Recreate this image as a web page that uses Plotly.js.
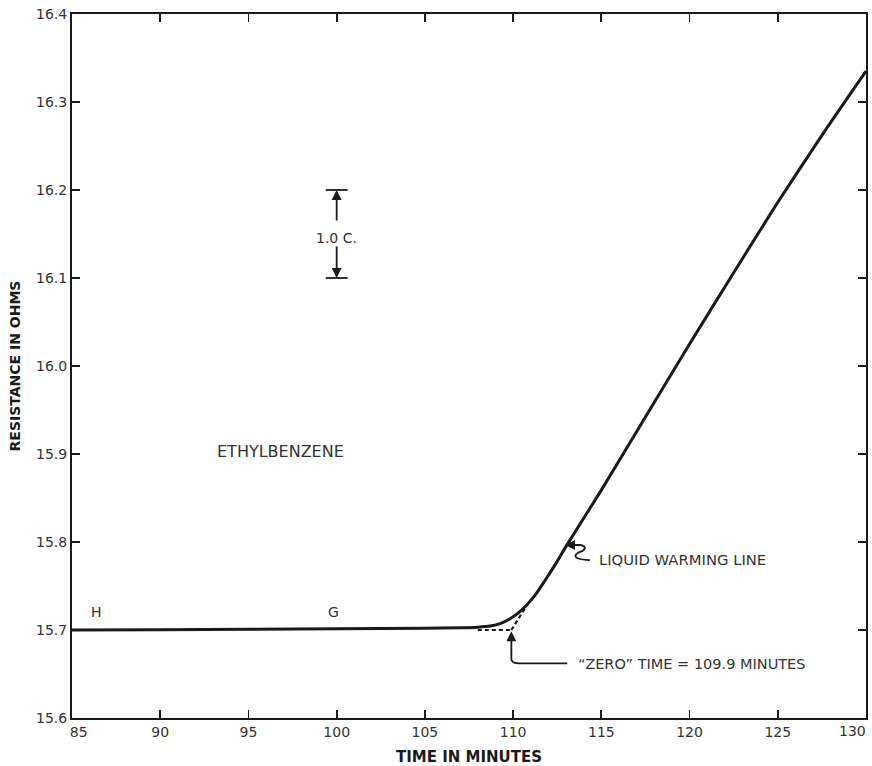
<!DOCTYPE html>
<html>
<head>
<meta charset="utf-8">
<script src="https://cdn.plot.ly/plotly-3.0.1.min.js"></script>
<style>html,body{margin:0;padding:0;background:#fff}#chart{width:872px;height:766px}</style>
</head>
<body>
<div id="chart"></div>
<script>
// Warming curve (time in minutes, resistance in ohms)
const timeMin = [85, 90, 95, 100, 105, 107, 108, 108.7, 109.3, 109.8, 110.3, 110.8, 111.3, 111.8, 112.5, 113, 115, 117.5, 120, 122.5, 125, 127.5, 130];
const resistance = [15.700, 15.7003, 15.7008, 15.7014, 15.7020, 15.7025, 15.7032, 15.7045, 15.7075, 15.7125, 15.7195, 15.7290, 15.7410, 15.7560, 15.7780, 15.7950, 15.8590, 15.9420, 16.0250, 16.1060, 16.1860, 16.2620, 16.3350];
// Extrapolation to "zero" time
const zeroTime = 109.9;
const baseLineX = [108.0, 109.9];
const baseLineY = [15.700, 15.700];
const extrapX = [109.9, 110.75];
const extrapY = [15.700, 15.727];
// Scale bar (1.0 C.)
const scaleX = 100;
const scaleTop = 16.2;
const scaleBottom = 16.1;

const xTicks = [85, 90, 95, 100, 105, 110, 115, 120, 125, 130];
const xTickText = ["\u00a0\u00a0\u00a085", "90", "95", "100", "105", "110", "115", "120", "125", ""];
const lastXLabel = "130";
const yTicks = [15.6, 15.7, 15.8, 15.9, 16.0, 16.1, 16.2, 16.3, 16.4];
const yTickText = ["15.6", "15.7", "15.8", "15.9", "16.0", "16.1", "16.2", "16.3", "16.4"];

const FONT = "DejaVu Sans, Verdana, sans-serif";
const INK = "#1a1a1a";
const TXT = "#333333";

const traces = [
  {x: timeMin, y: resistance, mode: "lines", line: {color: INK, width: 3, shape: "spline", smoothing: 0.6}, hoverinfo: "skip"},
  {x: baseLineX, y: baseLineY, mode: "lines", line: {color: INK, width: 2.2, dash: "4px,3px"}, hoverinfo: "skip"},
  {x: extrapX, y: extrapY, mode: "lines", line: {color: INK, width: 2.2, dash: "4px,3px"}, hoverinfo: "skip"}
];

const arrowAnn = (x, y, ax, ay) => ({x: x, y: y, ax: ax, ay: ay, xref: "x", yref: "y", axref: "x", ayref: "y",
  text: "", showarrow: true, arrowhead: 2, arrowsize: 1.1, arrowwidth: 1.8, arrowcolor: INK});

const txt = (text, x, y, size, xanchor) => ({x: x, y: y, xref: "x", yref: "y", text: text, showarrow: false,
  xanchor: xanchor || "center", yanchor: "middle", font: {family: FONT, size: size, color: TXT}});

const annotations = [
  arrowAnn(scaleX, scaleTop, scaleX, 16.1636),
  arrowAnn(scaleX, scaleBottom, scaleX, 16.1375),
  txt("1.0 C.", scaleX, 16.1455, 14),
  txt("ETHYLBENZENE", 96.8, 15.903, 16),
  txt("H", 86.4, 15.721, 14),
  txt("G", 99.8, 15.721, 14),
  txt("LIQUID WARMING LINE", 114.77, 15.780, 14.8, "left"),
  txt("\u201CZERO\u201D TIME = " + zeroTime + " MINUTES", 113.58, 15.661, 14.5, "left"),
  arrowAnn(zeroTime, 15.6985, zeroTime, 15.672),
  arrowAnn(112.95, 15.7966, 113.55, 15.7966),
  {x: xTicks[xTicks.length - 1], y: 0, xref: "x", yref: "paper", text: lastXLabel, showarrow: false,
   xanchor: "right", yanchor: "top", xshift: 2, yshift: -3, font: {family: FONT, size: 14, color: TXT}}
];

const shapes = [
  {type: "line", xref: "x", yref: "y", x0: scaleX - 0.62, x1: scaleX + 0.62, y0: scaleTop, y1: scaleTop, line: {color: INK, width: 1.8}},
  {type: "line", xref: "x", yref: "y", x0: scaleX - 0.62, x1: scaleX + 0.62, y0: scaleBottom, y1: scaleBottom, line: {color: INK, width: 1.8}},
  {type: "path", xref: "x", yref: "y", path: "M 109.9 15.674 L 109.9 15.667 Q 109.9 15.662 110.35 15.662 L 113.07 15.662", line: {color: INK, width: 1.8}},
  {type: "path", xref: "x", yref: "y", path: "M 113.5 15.7966 L 113.8 15.7966 Q 114.25 15.7945 113.95 15.790 Q 113.3 15.7855 113.65 15.7815 Q 113.9 15.7795 114.35 15.7795", line: {color: INK, width: 1.8}}
];

const axisCommon = {
  showgrid: false, zeroline: false, showline: true, linecolor: INK, linewidth: 2,
  ticks: "inside", ticklen: 8, tickwidth: 1.8, tickcolor: INK, mirror: "ticks",
  tickfont: {family: FONT, size: 14, color: TXT}, ticklabeloverflow: "allow"
};

const layout = {
  width: 872, height: 766,
  margin: {l: 72, r: 6, t: 14, b: 48},
  paper_bgcolor: "#fff", plot_bgcolor: "#fff",
  showlegend: false,
  xaxis: Object.assign({}, axisCommon, {range: [85, 130], tickvals: xTicks, ticktext: xTickText,
    title: {text: "<b>TIME IN MINUTES</b>", font: {family: FONT, size: 15, color: INK}, standoff: 14}}),
  yaxis: Object.assign({}, axisCommon, {range: [15.6, 16.4], tickvals: yTicks, ticktext: yTickText,
    title: {text: "<b>RESISTANCE IN OHMS</b>", font: {family: FONT, size: 14, color: INK}, standoff: 12}}),
  annotations: annotations,
  shapes: shapes
};

Plotly.newPlot("chart", traces, layout, {displayModeBar: false, staticPlot: true});
</script>
</body>
</html>
